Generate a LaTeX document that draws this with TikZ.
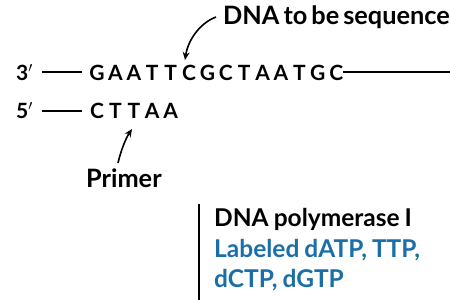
\documentclass[tikz,border=0pt]{standalone}
\usepackage{fontspec}
\setmainfont{Lato}
\usepackage{xcolor}
\usetikzlibrary{arrows.meta}
\definecolor{dnablue}{HTML}{1B6FA8}
\newcommand\labspace{\spaceskip 4pt\relax}
\newcommand\mixspace{\spaceskip 5pt\relax}
\tikzset{
    lab/.style={
        font=\bfseries\fontsize{25.3}{30}\selectfont\labspace, inner sep=0pt, anchor=base west
    },
    base/.style={
        font=\bfseries\fontsize{21}{24}\selectfont, inner sep=0pt, anchor=base
    },
    mix/.style={
        font=\bfseries\fontsize{24.5}{30}\selectfont\mixspace, inner sep=0pt, anchor=base west
    },
    strand/.style={line width=1.7pt},
    pointer/.style={line width=1.6pt, -{Stealth[length=8pt,width=7pt]}}
}
\begin{document}
\begin{tikzpicture}[x=1pt,y=-1pt,line cap=butt]

% --- frame ---
    \useasboundingbox (0,0) rectangle (450,300);

% template strand
    \node[base, anchor=base west] (end3) at (16,80) {3$'$};
    \coordinate (s3a) at (42,72);
    \coordinate (s3b) at (82,72);
    \draw[strand] (s3a) -- (s3b);
    \foreach \b [count=\i] in {G,A,A,T,T,C,G,C,T,A,A,T,G,C}
        \node[base] (t\i) at ({97+18.4*(\i-1)},80) {\b};
    \coordinate (s3c) at (343,72);
    \coordinate (s3d) at (450,72);
    \draw[strand] (s3c) -- (s3d);

% primer strand
    \node[base, anchor=base west] (end5) at (16,118) {5$'$};
    \coordinate (s5a) at (42,111);
    \coordinate (s5b) at (82,111);
    \draw[strand] (s5a) -- (s5b);
    \foreach \b [count=\i] in {C,T,T,A,A}
        \node[base] (p\i) at ({97+18.4*(\i-1)},118) {\b};

% labels and pointers
    \node[lab] (seq) at (223,24) {DNA to be sequence};
    \coordinate (seqtail) at (216,17);
    \coordinate (seqtip) at (185,60);
    \draw[pointer] (seqtail) .. controls (200,23) and (188,40) .. (seqtip);

    \node[lab] (primer) at (86,187) {Primer};
    \coordinate (prtail) at (118,163);
    \coordinate (prtip) at (132,129);
    \draw[pointer] (prtail) .. controls (121,150) and (126,138) .. (prtip);

% reaction mix
    \coordinate (bar1) at (199,204);
    \coordinate (bar2) at (199,300);
    \draw[strand] (bar1) -- (bar2);
    \node[mix] (pol) at (214,226) {DNA polymerase I};
    \node[mix, text=dnablue] (nuc1) at (214,257) {Labeled dATP, TTP,};
    \node[mix, text=dnablue] (nuc2) at (214,287) {dCTP, dGTP};

\end{tikzpicture}
\end{document}
